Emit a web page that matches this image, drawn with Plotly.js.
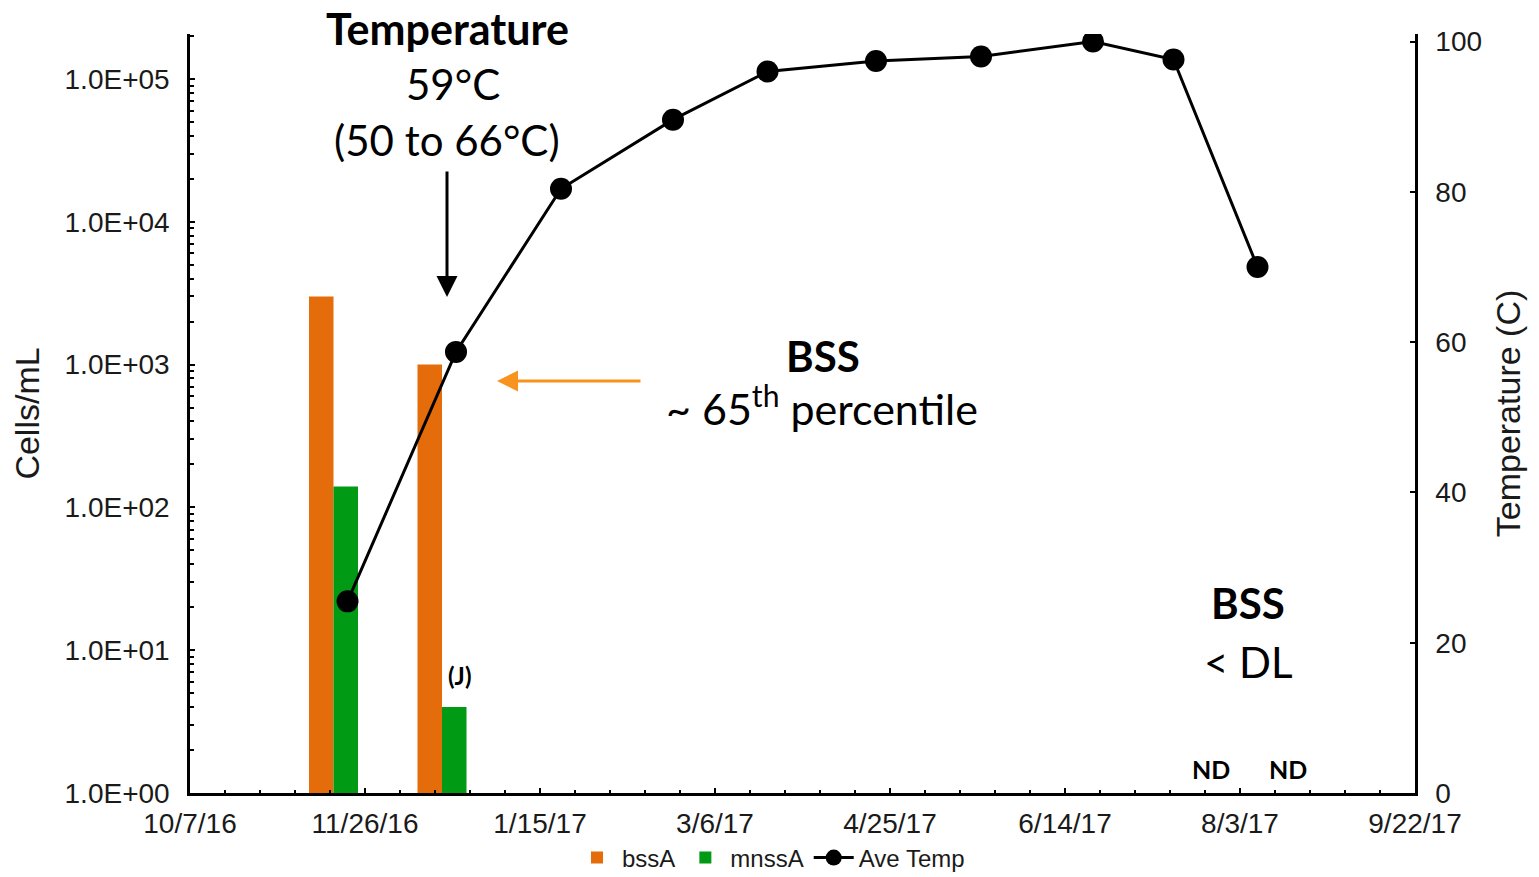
<!DOCTYPE html>
<html>
<head>
<meta charset="utf-8">
<script src="https://cdn.plot.ly/plotly-3.0.1.min.js"></script>
<style>html,body{margin:0;padding:0;background:#fff;}#chart{width:1539px;height:877px;}</style>
</head>
<body>
<div id="chart"></div>
<script>
// ---- data ----
const barDates = ['2016-11-17', '2016-12-18'];
const bssA = [3000, 1000];
const mnssA = [140, 4];
const tempDates = ['2016-11-21','2016-12-22','2017-01-21','2017-02-22','2017-03-21','2017-04-21','2017-05-21','2017-06-22','2017-07-15','2017-08-08'];
const aveTemp = [25.5, 58.7, 80.4, 89.6, 96.0, 97.4, 98.0, 100.0, 97.6, 70.0];
const logTickVals = [1, 10, 100, 1000, 10000, 100000];
const logTickText = ['1.0E+00','1.0E+01','1.0E+02','1.0E+03','1.0E+04','1.0E+05'];

const DAY = 86400000;
const minorLog = [];
for (let k = 0; k < 6; k++) for (let m = 2; m <= 9; m++) minorLog.push(m * Math.pow(10, k));

const tickFont = {family: '"Liberation Sans", Arial, sans-serif', size: 28, color: '#1a1a1a'};
const titleFont = {family: '"Liberation Sans", Arial, sans-serif', size: 34, color: '#1a1a1a'};
const noteFont = (size, bold) => ({family: 'Lato, "Open Sans", sans-serif', size: size, color: '#000', weight: bold ? 'bold' : 'normal'});

const traces = [
  {type: 'bar', name: 'bssA', x: barDates, y: bssA, yaxis: 'y',
   width: 7 * DAY, offset: -7 * DAY, marker: {color: '#E46C0A'}},
  {type: 'bar', name: 'mnssA', x: barDates, y: mnssA, yaxis: 'y',
   width: 7 * DAY, offset: 0, marker: {color: '#009A14'}},
  {type: 'scatter', mode: 'lines+markers', name: 'Ave Temp', x: tempDates, y: aveTemp, yaxis: 'y2',
   line: {color: '#000', width: 3}, marker: {color: '#000', size: 22}}
];

function P(px, py) { return {x: (px - 190) / 1225, y: (793 - py) / 759}; }
function note(px, py, text, size, bold) {
  const p = P(px, py);
  return {xref: 'paper', yref: 'paper', x: p.x, y: p.y, text: text, showarrow: false,
          xanchor: 'center', yanchor: 'middle', font: noteFont(size, bold)};
}
const hArrow = P(497, 381), vArrow = P(447, 297);

const layout = {
  width: 1539, height: 877,
  margin: {l: 190, r: 124, t: 34, b: 84},
  paper_bgcolor: '#fff', plot_bgcolor: '#fff',
  barmode: 'overlay',
  showlegend: true,
  legend: {orientation: 'h', xref: 'container', yref: 'container',
           x: 771 / 1539, xanchor: 'center', y: (877 - 858) / 877, yanchor: 'middle',
           font: {family: '"Liberation Sans", Arial, sans-serif', size: 24, color: '#1a1a1a'},
           itemwidth: 40, tracegroupgap: 10},
  xaxis: {type: 'date', range: ['2016-10-07', '2017-09-22'], tick0: '2016-10-07', dtick: 50 * DAY,
          tickformat: '%-m/%-d/%y', showgrid: false, zeroline: false, automargin: false,
          showline: true, linecolor: '#000', linewidth: 2.5,
          ticks: 'inside', ticklen: 5, tickwidth: 2, tickcolor: '#000',
          minor: {dtick: 10 * DAY, tick0: '2016-10-07', ticks: 'inside', ticklen: 3, tickwidth: 1.5, tickcolor: '#000'},
          tickfont: tickFont, ticklabelstandoff: 4},
  yaxis: {type: 'log', range: [0, 5.315], tickmode: 'array', tickvals: logTickVals, ticktext: logTickText,
          showgrid: false, zeroline: false, showline: true, linecolor: '#000', linewidth: 2.5, automargin: false,
          ticks: 'inside', ticklen: 5, tickwidth: 2, tickcolor: '#000',
          minor: {tickmode: 'array', tickvals: minorLog, ticks: 'inside', ticklen: 4, tickwidth: 1.5, tickcolor: '#000'},
          tickfont: tickFont, ticklabelstandoff: 12,
          title: {text: 'Cells/mL', font: titleFont, standoff: 15}},
  yaxis2: {overlaying: 'y', side: 'right', range: [0, 101], dtick: 20, tick0: 0, automargin: false,
           showgrid: false, zeroline: false, showline: true, linecolor: '#000', linewidth: 2.5,
           ticks: 'inside', ticklen: 5, tickwidth: 2, tickcolor: '#000',
           tickfont: tickFont, ticklabelstandoff: 12,
           title: {text: 'Temperature (C)', font: titleFont, standoff: 16}},
  annotations: [
    note(447, 28, 'Temperature', 43, true),
    note(453, 84, '59°C', 42, false),
    note(447, 140, '(50 to 66°C)', 42, false),
    note(823, 356, 'BSS', 42, true),
    note(822, 406, '~ 65<sup>th</sup> percentile', 43, false),
    note(1248, 603, 'BSS', 42, true),
    note(1248, 662, '< DL', 42, false),
    note(1211, 769, 'ND', 25, true),
    note(1288, 769, 'ND', 25, true),
    note(459, 675, '(J)', 24, true),
    {xref: 'paper', yref: 'paper', x: vArrow.x, y: vArrow.y, ax: 0, ay: -127, axref: 'pixel', ayref: 'pixel',
     text: '', showarrow: true, arrowhead: 2, arrowsize: 1.4, arrowwidth: 3, arrowcolor: '#000'},
    {xref: 'paper', yref: 'paper', x: hArrow.x, y: hArrow.y, ax: 145, ay: 0, axref: 'pixel', ayref: 'pixel',
     text: '', showarrow: true, arrowhead: 2, arrowsize: 1.4, arrowwidth: 3, arrowcolor: '#F7931E'}
  ]
};

Plotly.newPlot('chart', traces, layout, {displayModeBar: false, responsive: false});
</script>
</body>
</html>
